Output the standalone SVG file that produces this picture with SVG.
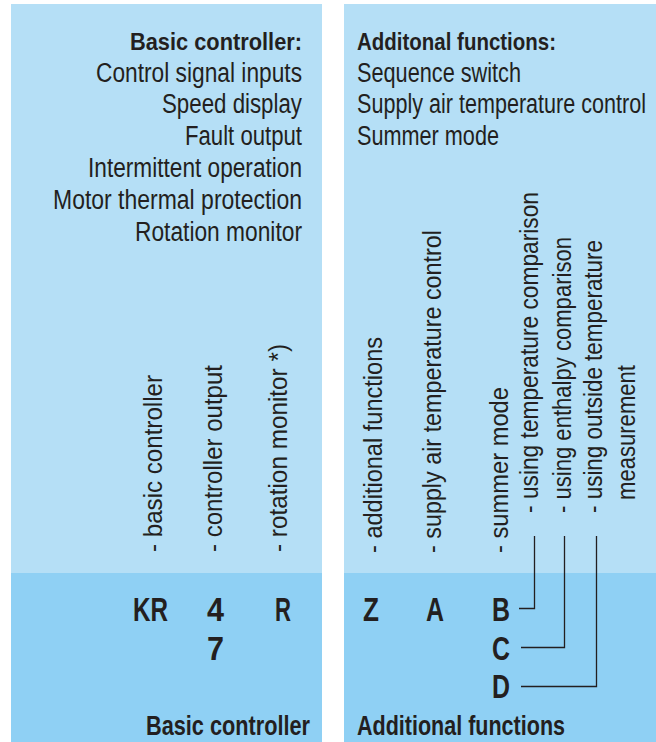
<svg xmlns="http://www.w3.org/2000/svg" width="656" height="742" viewBox="0 0 656 742">
<style>
.bg{fill:#b5dff6}
.band{fill:#8fd0f4}
text{font-family:"Liberation Sans",Arial,sans-serif;fill:#231f20}
.b{font-weight:bold}
.h{font-size:24px}
.r{font-size:27px}
.v{font-size:25px}
.c{font-size:33px;font-weight:bold}
.l{font-size:27px;font-weight:bold}
.ln{fill:none;stroke:#231f20;stroke-width:1.3}
</style>
<g id="panels">
<rect class="bg" x="11" y="4" width="311" height="738"/>
<rect class="bg" x="344" y="4" width="312" height="738"/>
<rect class="band" x="11" y="573" width="311" height="169"/>
<rect class="band" x="344" y="573" width="312" height="169"/>
</g>
<g id="basic-list">
<text class="h b" x="130" y="50" textLength="172" lengthAdjust="spacingAndGlyphs">Basic controller:</text>
<text class="r" x="96" y="82" textLength="206" lengthAdjust="spacingAndGlyphs">Control signal inputs</text>
<text class="r" x="162" y="113" textLength="140" lengthAdjust="spacingAndGlyphs">Speed display</text>
<text class="r" x="185" y="145" textLength="117" lengthAdjust="spacingAndGlyphs">Fault output</text>
<text class="r" x="88" y="177" textLength="214" lengthAdjust="spacingAndGlyphs">Intermittent operation</text>
<text class="r" x="53" y="209" textLength="249" lengthAdjust="spacingAndGlyphs">Motor thermal protection</text>
<text class="r" x="135" y="241" textLength="167" lengthAdjust="spacingAndGlyphs">Rotation monitor</text>
</g>
<g id="additional-list">
<text class="h b" x="357" y="50" textLength="199" lengthAdjust="spacingAndGlyphs">Additonal functions:</text>
<text class="r" x="357" y="82" textLength="164" lengthAdjust="spacingAndGlyphs">Sequence switch</text>
<text class="r" x="357" y="113" textLength="289" lengthAdjust="spacingAndGlyphs">Supply air temperature control</text>
<text class="r" x="357" y="145" textLength="142" lengthAdjust="spacingAndGlyphs">Summer mode</text>
</g>
<g id="basic-keys">
<text class="v" transform="translate(162,552) rotate(-90)" textLength="177" lengthAdjust="spacingAndGlyphs">- basic controller</text>
<text class="v" transform="translate(222,552) rotate(-90)" textLength="187" lengthAdjust="spacingAndGlyphs">- controller output</text>
<text class="v" transform="translate(287,552) rotate(-90)" textLength="208" lengthAdjust="spacingAndGlyphs">- rotation monitor *)</text>
</g>
<g id="additional-keys">
<text class="v" transform="translate(382,553) rotate(-90)" textLength="216" lengthAdjust="spacingAndGlyphs">- additional functions</text>
<text class="v" transform="translate(441,553) rotate(-90)" textLength="323" lengthAdjust="spacingAndGlyphs">- supply air temperature control</text>
<text class="v" transform="translate(508,553) rotate(-90)" textLength="166" lengthAdjust="spacingAndGlyphs">- summer mode</text>
<text class="v" transform="translate(538,513) rotate(-90)" textLength="321" lengthAdjust="spacingAndGlyphs">- using temperature comparison</text>
<text class="v" transform="translate(571,513) rotate(-90)" textLength="276" lengthAdjust="spacingAndGlyphs">- using enthalpy comparison</text>
<text class="v" transform="translate(602,513) rotate(-90)" textLength="273" lengthAdjust="spacingAndGlyphs">- using outside temperature</text>
<text class="v" transform="translate(635,500) rotate(-90)" textLength="135" lengthAdjust="spacingAndGlyphs">measurement</text>
</g>
<g id="basic-codes">
<text class="c" x="133" y="621" textLength="35" lengthAdjust="spacingAndGlyphs">KR</text>
<text class="c" x="207" y="621" textLength="17" lengthAdjust="spacingAndGlyphs">4</text>
<text class="c" x="207" y="660" textLength="17" lengthAdjust="spacingAndGlyphs">7</text>
<text class="c" x="275" y="621" textLength="16" lengthAdjust="spacingAndGlyphs">R</text>
<text class="l" x="146" y="735" textLength="164" lengthAdjust="spacingAndGlyphs">Basic controller</text>
</g>
<g id="additional-codes">
<text class="c" x="363" y="621" textLength="16" lengthAdjust="spacingAndGlyphs">Z</text>
<text class="c" x="426" y="621" textLength="18" lengthAdjust="spacingAndGlyphs">A</text>
<text class="c" x="492" y="621" textLength="18" lengthAdjust="spacingAndGlyphs">B</text>
<text class="c" x="492" y="660" textLength="18" lengthAdjust="spacingAndGlyphs">C</text>
<text class="c" x="492" y="698" textLength="18" lengthAdjust="spacingAndGlyphs">D</text>
<text class="l" x="357" y="735" textLength="208" lengthAdjust="spacingAndGlyphs">Additional functions</text>
</g>
<g id="connectors">
<polyline class="ln" points="534.5,536 534.5,608.5 519,608.5"/>
<polyline class="ln" points="564.5,536 564.5,647.5 521,647.5"/>
<polyline class="ln" points="596.5,536 596.5,686.5 521,686.5"/>
</g>
</svg>
